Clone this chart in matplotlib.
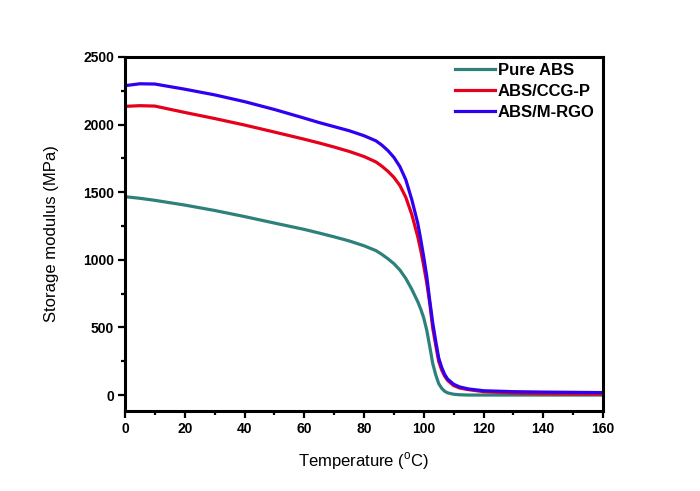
import matplotlib
matplotlib.use('Agg')
import matplotlib.pyplot as plt
from matplotlib.ticker import MultipleLocator

# 温度 (°C)
temperature = [0, 5, 10, 20, 30, 40, 50, 60, 65, 70, 75, 80, 84, 86, 88, 90, 92, 94,
               96, 98, 99, 100, 101, 102, 103, 104, 105, 106, 107, 108, 110, 112,
               115, 120, 130, 140, 150, 160]

# 储能模量 (MPa)
pure_abs = [1467, 1455, 1440, 1405, 1365, 1320, 1272, 1225, 1198, 1170, 1140, 1104,
            1068, 1040, 1008, 972, 925, 862, 782, 690, 635, 570, 480, 360, 234,
            150, 85, 50, 28, 16, 6, 2, 0, 0, 0, 0, 0, 0]
abs_ccg_p = [2135, 2140, 2137, 2090, 2045, 1997, 1945, 1892, 1864, 1834, 1802, 1764,
             1724, 1692, 1655, 1610, 1550, 1462, 1335, 1170, 1070, 955, 830, 680,
             495, 370, 250, 185, 140, 108, 70, 52, 40, 25, 15, 10, 8, 7]
abs_m_rgo = [2288, 2302, 2300, 2262, 2220, 2170, 2112, 2048, 2015, 1985, 1955, 1918,
             1880, 1848, 1808, 1758, 1690, 1592, 1445, 1270, 1150, 1020, 880, 700,
             535, 400, 275, 205, 152, 118, 80, 60, 45, 32, 25, 22, 20, 18]

series_labels = ['Pure ABS', 'ABS/CCG-P', 'ABS/M-RGO']
colors = ['#2E807B', '#E5001C', '#3000F0']

plt.rcParams['font.family'] = ['Liberation Sans', 'DejaVu Sans']
plt.rcParams['mathtext.fontset'] = 'custom'
plt.rcParams['mathtext.rm'] = 'Liberation Sans'

fig = plt.figure(figsize=(7.0, 4.91), dpi=100)
ax = fig.add_axes([125 / 700, 1 - 411 / 491, 478 / 700, 354 / 491])

for values, label, color in zip([pure_abs, abs_ccg_p, abs_m_rgo], series_labels, colors):
    ax.plot(temperature, values, color=color, lw=2.3, label=label)

ax.set_xlim(0, 160)
ax.set_ylim(-118, 2500)
ax.xaxis.set_major_locator(MultipleLocator(20))
ax.xaxis.set_minor_locator(MultipleLocator(10))
ax.yaxis.set_major_locator(MultipleLocator(500))
ax.yaxis.set_minor_locator(MultipleLocator(250))

for side in ax.spines.values():
    side.set_linewidth(2.2)
ax.tick_params(which='major', direction='out', length=5, width=1.6,
               labelsize=10, pad=3)
ax.tick_params(which='minor', direction='out', length=3, width=1.6)
for lab in ax.get_xticklabels() + ax.get_yticklabels():
    lab.set_fontweight('bold')

ax.set_xlabel('Temperature ($^{\\mathrm{o}}$C)', fontsize=12, labelpad=10)
ax.set_ylabel('Storage modulus (MPa)', fontsize=12, labelpad=17)

leg = ax.legend(loc='upper left', bbox_to_anchor=(455 / 700, 1 - 63 / 491),
                bbox_transform=fig.transFigure, frameon=False, borderpad=0,
                borderaxespad=0, handlelength=2.4, handletextpad=0.18,
                labelspacing=0.35, prop={'size': 12, 'weight': 'bold'})

fig.savefig('out.png', dpi=100)
